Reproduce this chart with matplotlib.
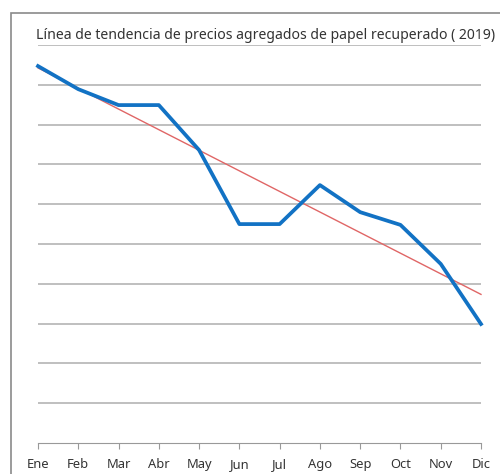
import numpy as np
import matplotlib
matplotlib.use("Agg")
import matplotlib.pyplot as plt
import matplotlib.patches as patches

# datos
meses = ["Ene", "Feb", "Mar", "Abr", "May", "Jun", "Jul", "Ago", "Sep", "Oct", "Nov", "Dic"]
precios = [9.47, 8.89, 8.49, 8.49, 7.36, 5.5, 5.5, 6.48, 5.8, 5.48, 4.5, 2.99]
titulo = "Línea de tendencia de precios agregados de papel recuperado ( 2019)"

plt.rcParams['font.family'] = ['Noto Sans', 'DejaVu Sans']

fig = plt.figure(figsize=(5, 4.74), dpi=100)
ax = fig.add_axes([0.076, 0.0654, 0.886, 0.8397])

x = np.arange(len(meses))
# línea de tendencia (ajuste lineal)
m, b = np.polyfit(x, precios, 1)
ax.plot(x, m * x + b, color='#e06666', lw=1.0, zorder=3, clip_on=False)
ax.plot(x, precios, color='#1272c4', lw=2.7, zorder=4, clip_on=False,
        solid_joinstyle='round')

ax.set_xlim(0, 11)
ax.set_ylim(0, 10)
ax.set_yticks(np.arange(1, 11))
ax.yaxis.grid(True, color='#b4b4b4', lw=1.2)
ax.tick_params(axis='y', left=False, labelleft=False)
ax.set_xticks(x)
ax.set_xticklabels(meses, fontsize=9.3, color='#333333')
ax.tick_params(axis='x', length=4, color='#999999', pad=7)
for s in ['top', 'right', 'left']:
    ax.spines[s].set_visible(False)
ax.spines['bottom'].set_color('#999999')
ax.set_axisbelow(True)

fig.text(0.072, 0.918, titulo, fontsize=10.1, color='#333333')

# marco exterior
fig.patches.append(patches.Rectangle((11 / 500, -0.1), 1.2, 1 - 13 / 474 + 0.1,
                                     transform=fig.transFigure, fill=False,
                                     edgecolor='#8a8a8a', lw=1.2))

fig.savefig("out.png", dpi=100)
